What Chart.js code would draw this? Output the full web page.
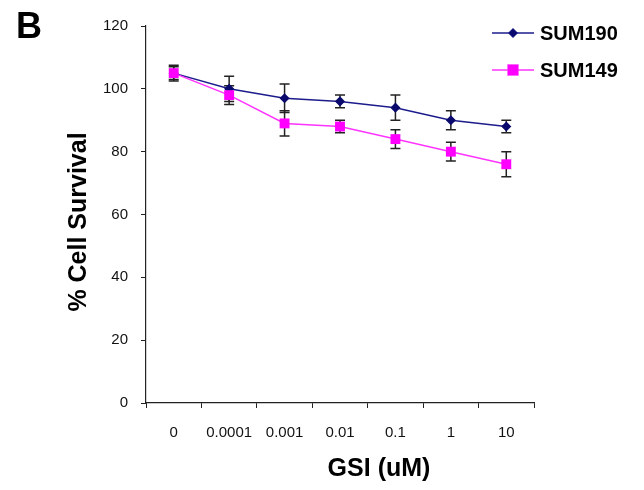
<!DOCTYPE html>
<html>
<head>
<meta charset="utf-8">
<script src="https://cdn.jsdelivr.net/npm/chart.js@4"></script>
<style>
  body { margin: 0; background: #fff; }
  #wrap { width: 644px; height: 490px; }
</style>
</head>
<body>
<div id="wrap"><canvas id="chart"></canvas></div>
<script>
const doses = ["0", "0.0001", "0.001", "0.01", "0.1", "1", "10"];
const sum190 = [105, 100, 97, 96, 94, 90, 88];
const sum190Err = [2.5, 4, 4.5, 2, 4, 3, 2];
const sum149 = [105, 98, 89, 88, 84, 80, 76];
const sum149Err = [2, 3, 4, 2, 3, 3, 4];
const yTicks = [0, 20, 40, 60, 80, 100, 120];

const font = "'Liberation Sans', Arial, sans-serif";

// error bars, drawn under the markers
const errorBars = {
  id: "errorBars",
  beforeDatasetsDraw(chart) {
    const ctx = chart.ctx;
    const x = chart.scales.x, y = chart.scales.y;
    const errs = [sum190Err, sum149Err];
    ctx.save();
    ctx.strokeStyle = "#222";
    ctx.lineWidth = 1.5;
    chart.data.datasets.forEach((ds, i) => {
      ds.data.forEach((v, j) => {
        const px = x.getPixelForValue(j);
        const top = y.getPixelForValue(v + errs[i][j]);
        const bot = y.getPixelForValue(v - errs[i][j]);
        ctx.beginPath();
        ctx.moveTo(px, top); ctx.lineTo(px, bot);
        ctx.moveTo(px - 5, top); ctx.lineTo(px + 5, top);
        ctx.moveTo(px - 5, bot); ctx.lineTo(px + 5, bot);
        ctx.stroke();
      });
    });
    ctx.restore();
  }
};

// panel letter, axis titles and legend
const decorations = {
  id: "decorations",
  afterDraw(chart) {
    const ctx = chart.ctx;
    ctx.save();
    ctx.fillStyle = "#000";
    ctx.font = "bold 36px " + font;
    ctx.textBaseline = "alphabetic";
    ctx.fillText("B", 16, 38);

    ctx.font = "bold 25px " + font;
    ctx.textAlign = "center";
    ctx.fillText("GSI (uM)", 379, 476);

    ctx.translate(79, 222);
    ctx.rotate(-Math.PI / 2);
    ctx.textBaseline = "middle";
    ctx.fillText("% Cell Survival", 0, 0);
    ctx.restore();

    ctx.save();
    const items = [
      { label: "SUM190", ds: chart.data.datasets[0], y: 33 },
      { label: "SUM149", ds: chart.data.datasets[1], y: 70 }
    ];
    items.forEach(it => {
      ctx.strokeStyle = it.ds.borderColor;
      ctx.lineWidth = 1.5;
      ctx.beginPath();
      ctx.moveTo(492, it.y); ctx.lineTo(534, it.y);
      ctx.stroke();
      Chart.helpers.drawPoint(ctx, {
        pointStyle: it.ds.pointStyle,
        radius: it.ds.pointRadius,
        borderWidth: 1
      }, 513, it.y);
      ctx.fillStyle = it.ds.pointBackgroundColor;
      ctx.strokeStyle = it.ds.pointBorderColor;
      ctx.fill();
      ctx.fillStyle = "#000";
      ctx.font = "bold 20px " + font;
      ctx.textBaseline = "middle";
      ctx.fillText(it.label, 540, it.y + 1);
    });
    ctx.restore();
  }
};

new Chart(document.getElementById("chart"), {
  type: "line",
  data: {
    labels: doses,
    datasets: [
      {
        label: "SUM190",
        data: sum190,
        order: 1,
        borderColor: "#1c1c8c",
        borderWidth: 1.5,
        pointStyle: "rectRot",
        pointRadius: 4,
        pointBackgroundColor: "#0a0a6e",
        pointBorderColor: "#0a0a6e",
        tension: 0
      },
      {
        label: "SUM149",
        data: sum149,
        order: 0,
        borderColor: "#ff33ff",
        borderWidth: 1.5,
        pointStyle: "rect",
        pointRadius: 7,
        pointBorderWidth: 0,
        pointBackgroundColor: "#ff00ff",
        pointBorderColor: "#ff00ff",
        tension: 0
      }
    ]
  },
  options: {
    responsive: true,
    maintainAspectRatio: false,
    animation: false,
    layout: { padding: { left: 0, right: 110, top: 26, bottom: 0 } },
    plugins: {
      legend: { display: false },
      tooltip: { enabled: false }
    },
    scales: {
      x: {
        offset: true,
        grid: {
          offset: true,
          drawOnChartArea: false,
          drawTicks: true,
          tickLength: 5,
          color: "#222"
        },
        border: { color: "#222", width: 1.2 },
        ticks: {
          padding: 16,
          color: "#111",
          font: { family: font, size: 15 },
          maxRotation: 0
        },
        afterFit(scale) { scale.height = 87; }
      },
      y: {
        min: 0,
        max: 120,
        afterBuildTicks(scale) { scale.ticks = yTicks.map(v => ({ value: v })); },
        grid: {
          drawOnChartArea: false,
          drawTicks: true,
          tickLength: 5,
          color: "#222"
        },
        border: { color: "#222", width: 1.2 },
        ticks: {
          padding: 13,
          color: "#111",
          font: { family: font, size: 15 }
        },
        afterFit(scale) { scale.width = 146; }
      }
    }
  },
  plugins: [errorBars, decorations]
});
</script>
</body>
</html>
